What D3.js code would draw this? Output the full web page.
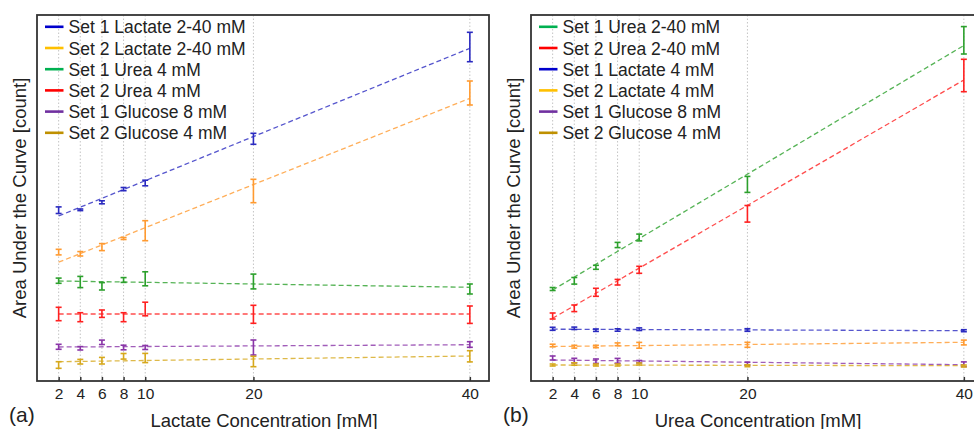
<!DOCTYPE html>
<html>
<head>
<meta charset="utf-8">
<script src="https://cdn.jsdelivr.net/npm/d3@7"></script>
<style>
  body { margin: 0; background: #fff; }
  svg { display: block; font-family: "Liberation Sans", Arial, sans-serif; }
</style>
</head>
<body>
<svg id="chart" width="974" height="429"></svg>
<script>
// concentrations on the x axis (mM)
var concentrations = [2, 4, 6, 8, 10, 20, 40];
var tickLabels = ["2", "4", "6", "8", "10", "20", "40"];

// panel (a): lactate varied, values in arbitrary count units
var aNames = ["Set 1 Lactate 2-40 mM", "Set 2 Lactate 2-40 mM", "Set 1 Urea 4 mM",
              "Set 2 Urea 4 mM", "Set 1 Glucose 8 mM", "Set 2 Glucose 4 mM"];
var aSet1Lactate = [170.8, 171.2, 178.7, 191.9, 198, 242.2, 334];
var aSet1LactateErr = [3.3, 0.8, 1.5, 1.6, 2.8, 5.5, 14.7];
var aSet2Lactate = [128.9, 127.2, 133.9, 142.5, 150.3, 190, 288];
var aSet2LactateErr = [2.8, 2.2, 3.5, 1, 10, 11.7, 12];
var aSet1Urea = [100.3, 99, 94.7, 101, 102.2, 99.5, 92];
var aSet1UreaErr = [2.6, 5.6, 3.7, 2.4, 7, 7.4, 5];
var aSet2Urea = [67, 63.8, 67.3, 63.8, 72, 66.7, 66.3];
var aSet2UreaErr = [6.7, 4.5, 3.7, 4.5, 6.8, 9, 8.7];
var aSet1Glucose = [34.2, 32.7, 38.7, 33.5, 33.5, 33.5, 36.5];
var aSet1GlucoseErr = [2.5, 1.7, 2.2, 2.3, 2, 7.5, 2.8];
var aSet2Glucose = [16, 19.3, 20.3, 24.7, 23, 19.5, 24.7];
var aSet2GlucoseErr = [3.3, 2.3, 3.3, 2.8, 4.6, 5.2, 5.6];
// fitted line values at 2 mM and 40 mM
var aFits = [[165, 332.7], [118.8, 282.7], [100, 93.7], [67, 67], [34, 36.3], [19.3, 25]];

// panel (b): urea varied
var bNames = ["Set 1 Urea 2-40 mM", "Set 2 Urea 2-40 mM", "Set 1 Lactate 4 mM",
              "Set 2 Lactate 4 mM", "Set 1 Glucose 8 mM", "Set 2 Glucose 4 mM"];
var bSet1Urea = [92, 100.2, 113.7, 136, 143.5, 196.6, 340.7];
var bSet1UreaErr = [1.5, 3.3, 2, 2.6, 3.4, 8, 13.7];
var bSet2Urea = [65, 72.7, 88.7, 98.8, 111.2, 167.2, 305.5];
var bSet2UreaErr = [3, 3.3, 4, 2.8, 3.5, 8.3, 16.2];
var bSet1Lactate = [52.2, 52.7, 50.8, 51, 51.8, 51, 50.3];
var bSet1LactateErr = [1.5, 1.2, 1.2, 1.2, 1.3, 1.3, 1];
var bSet2Lactate = [35.5, 34.3, 34.5, 36.7, 35.7, 36.2, 38.5];
var bSet2LactateErr = [1.3, 1.4, 1.2, 1.4, 2.9, 2.5, 2.4];
var bSet1Glucose = [23, 20.4, 19.8, 20.2, 19.3, 17.3, 16.8];
var bSet1GlucoseErr = [2, 2.3, 2.2, 2.4, 1.2, 1.5, 2.3];
var bSet2Glucose = [16, 17, 16, 16, 17, 15.3, 15];
var bSet2GlucoseErr = [1, 1.2, 1, 1, 1, 1, 1];
var bFits = [[91, 335.5], [62.7, 301], [51.8, 50.3], [34.5, 38.7], [21, 16.3], [16, 15.3]];

// colours: legend swatch / data marks
var cBlue = ["#0000cc", "#2a2ac0"];
var cOrange = ["#ffc000", "#ff9a30"];
var cGreen = ["#00b050", "#2ca02c"];
var cRed = ["#ff0000", "#ff2020"];
var cPurple = ["#7030a0", "#8a35a8"];
var cGold = ["#bf9000", "#d6a81c"];

var svg = d3.select("#chart");

function drawPanel(opt) {
    var left = opt.left, top = 15, width = 452, height = 366;

    var x = d3.scaleLinear().domain([0, 41.77]).range([left, left + width]);
    var y = d3.scaleLinear().domain([0, 366]).range([top + height, top]);

    var g = svg.append("g");

    // dotted vertical grid
    g.selectAll(".grid")
        .data(concentrations)
        .enter().append("line")
        .attr("x1", function(d) { return x(d); })
        .attr("x2", function(d) { return x(d); })
        .attr("y1", top)
        .attr("y2", top + height)
        .attr("stroke", "#c4c4c4")
        .attr("stroke-width", 1)
        .attr("stroke-dasharray", "1.5,2");

    // x axis with inward ticks
    var ax = g.append("g")
        .attr("transform", "translate(0," + (top + height) + ")")
        .call(d3.axisBottom(x).tickValues(concentrations)
            .tickFormat(function(d, i) { return tickLabels[i]; })
            .tickSizeInner(-4).tickSizeOuter(0).tickPadding(7));
    ax.select(".domain").remove();
    ax.selectAll(".tick line").attr("stroke", "#333").attr("stroke-width", 1.5);
    ax.selectAll(".tick text").attr("font-size", "15.5px").attr("fill", "#222")
        .attr("font-family", "Liberation Sans, Arial, sans-serif");

    // series
    opt.series.forEach(function(s, k) {
        var fit = opt.fits[k];
        g.append("line")
            .attr("x1", x(concentrations[0]))
            .attr("x2", x(concentrations[concentrations.length - 1]))
            .attr("y1", y(fit[0]))
            .attr("y2", y(fit[1]))
            .attr("stroke", s.color[1])
            .attr("stroke-opacity", 0.8)
            .attr("stroke-width", 1.3)
            .attr("stroke-dasharray", "5,3");

        var eb = g.selectAll(null)
            .data(concentrations)
            .enter().append("g")
            .attr("stroke", s.color[1])
            .attr("stroke-width", 1.6);
        eb.append("line")
            .attr("x1", function(d) { return x(d); })
            .attr("x2", function(d) { return x(d); })
            .attr("y1", function(d, i) { return y(s.values[i] + s.err[i]); })
            .attr("y2", function(d, i) { return y(s.values[i] - s.err[i]); });
        eb.append("line")
            .attr("x1", function(d) { return x(d) - 3; })
            .attr("x2", function(d) { return x(d) + 3; })
            .attr("y1", function(d, i) { return y(s.values[i] + s.err[i]); })
            .attr("y2", function(d, i) { return y(s.values[i] + s.err[i]); });
        eb.append("line")
            .attr("x1", function(d) { return x(d) - 3; })
            .attr("x2", function(d) { return x(d) + 3; })
            .attr("y1", function(d, i) { return y(s.values[i] - s.err[i]); })
            .attr("y2", function(d, i) { return y(s.values[i] - s.err[i]); });
    });

    // frame
    g.append("rect")
        .attr("x", left).attr("y", top)
        .attr("width", width).attr("height", height)
        .attr("fill", "none")
        .attr("stroke", "#333")
        .attr("stroke-width", 1.8);

    // legend
    var lg = g.selectAll(".legend")
        .data(opt.series)
        .enter().append("g")
        .attr("transform", function(d, i) {
            return "translate(" + (left + 8) + "," + (33.3 + i * 21.2) + ")";
        });
    lg.append("line")
        .attr("x1", 0).attr("x2", 18.5)
        .attr("y1", -6.5).attr("y2", -6.5)
        .attr("stroke", function(d) { return d.color[0]; })
        .attr("stroke-width", 2.6);
    lg.append("text")
        .attr("x", 23.5)
        .attr("font-size", "17.5px")
        .attr("fill", "#222")
        .text(function(d) { return d.name; });

    // axis titles
    g.append("text")
        .attr("x", left + 227)
        .attr("y", 426.5)
        .attr("text-anchor", "middle")
        .attr("font-size", "18.5px")
        .attr("fill", "#222")
        .text(opt.xTitle);
    g.append("text")
        .attr("transform", "translate(" + (left - 11) + "," + 198 + ") rotate(-90)")
        .attr("text-anchor", "middle")
        .attr("font-size", "18.5px")
        .attr("fill", "#222")
        .text("Area Under the Curve [count]");
    g.append("text")
        .attr("x", opt.tagX)
        .attr("y", 422)
        .attr("font-size", "21px")
        .attr("fill", "#222")
        .text(opt.tag);
}

drawPanel({
    left: 37,
    xTitle: "Lactate Concentration [mM]",
    tag: "(a)",
    tagX: 9,
    fits: aFits,
    series: [
        { name: aNames[0], values: aSet1Lactate, err: aSet1LactateErr, color: cBlue },
        { name: aNames[1], values: aSet2Lactate, err: aSet2LactateErr, color: cOrange },
        { name: aNames[2], values: aSet1Urea, err: aSet1UreaErr, color: cGreen },
        { name: aNames[3], values: aSet2Urea, err: aSet2UreaErr, color: cRed },
        { name: aNames[4], values: aSet1Glucose, err: aSet1GlucoseErr, color: cPurple },
        { name: aNames[5], values: aSet2Glucose, err: aSet2GlucoseErr, color: cGold }
    ]
});

drawPanel({
    left: 531,
    xTitle: "Urea Concentration [mM]",
    tag: "(b)",
    tagX: 503,
    fits: bFits,
    series: [
        { name: bNames[0], values: bSet1Urea, err: bSet1UreaErr, color: cGreen },
        { name: bNames[1], values: bSet2Urea, err: bSet2UreaErr, color: cRed },
        { name: bNames[2], values: bSet1Lactate, err: bSet1LactateErr, color: cBlue },
        { name: bNames[3], values: bSet2Lactate, err: bSet2LactateErr, color: cOrange },
        { name: bNames[4], values: bSet1Glucose, err: bSet1GlucoseErr, color: cPurple },
        { name: bNames[5], values: bSet2Glucose, err: bSet2GlucoseErr, color: cGold }
    ]
});
</script>
</body>
</html>
